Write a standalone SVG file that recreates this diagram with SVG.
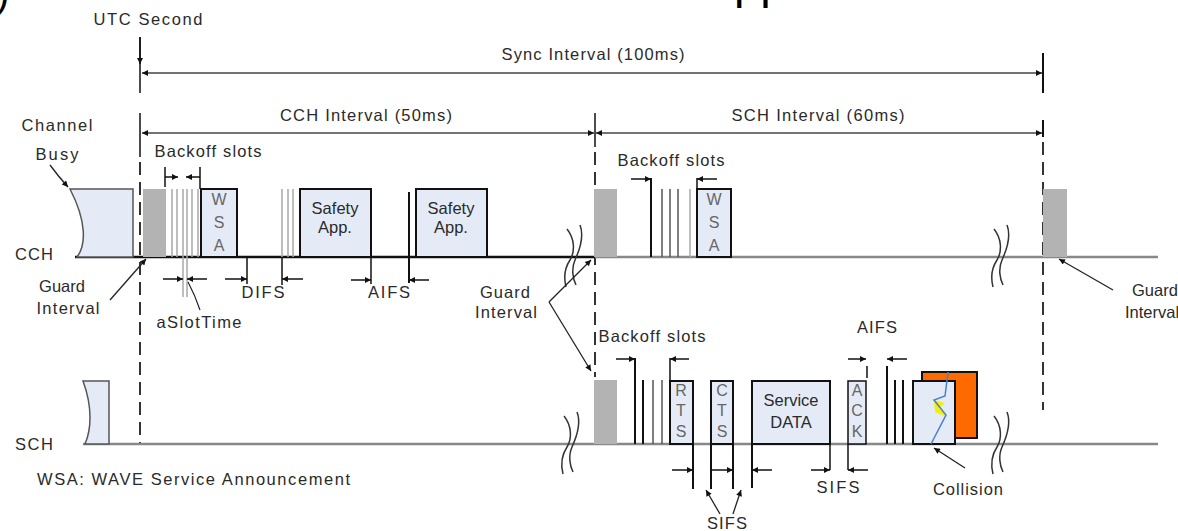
<svg xmlns="http://www.w3.org/2000/svg" width="1178" height="531" viewBox="0 0 1178 531">
<defs>
<marker id="ah" viewBox="0 0 10 10" refX="10" refY="5" markerWidth="9" markerHeight="6" markerUnits="userSpaceOnUse" orient="auto-start-reverse"><path d="M0,0 L10,5 L0,10 z" fill="#111"/></marker>
</defs>
<style>
text{font-family:"Liberation Sans",Arial,sans-serif;font-size:16.5px;fill:#2a2a2a}
.m{text-anchor:middle}
.lt{fill:#666;font-size:16px}
.k{stroke:#111;stroke-width:2;fill:none}
.thin{stroke:#111;stroke-width:1.5;fill:none}
.g{stroke:#a8a8a8;stroke-width:1.5}
.dg{stroke:#555;stroke-width:1.5}
.dash{stroke:#333;stroke-width:2;stroke-dasharray:13 7;fill:none}
.box{fill:#e4ebf7;stroke:#111;stroke-width:2}
.busy{fill:#e4ebf7;stroke:#555;stroke-width:1.5}
.guard{fill:#b3b3b3}
.dim{stroke:#111;stroke-width:1.5;marker-end:url(#ah)}
.brk{stroke:#333;stroke-width:1.5;fill:none}
.ptr{stroke:#222;stroke-width:1.3;fill:none;marker-end:url(#ah)}
.both{stroke:#444;stroke-width:1.5;marker-start:url(#ah);marker-end:url(#ah)}
</style>
<rect width="1178" height="531" fill="#fff"/>

<g id="fragments">
<text x="-4" y="7" style="font-size:40px;fill:#000">)</text>
<text x="734" y="-2" style="font-size:47px;fill:#000">pp</text>
</g>

<g id="intervals">
<text class="m" x="148" y="25" textLength="109">UTC Second</text>
<line x1="140" y1="37" x2="140" y2="93" class="thin"/>
<line x1="140" y1="37" x2="140" y2="64" class="dim"/>
<line x1="1043" y1="53" x2="1043" y2="93" class="k"/>
<line x1="142" y1="73" x2="1042" y2="73" class="both"/>
<text class="m" x="593" y="60" textLength="183">Sync Interval (100ms)</text>

<line x1="140" y1="113" x2="140" y2="157" class="thin"/>
<line x1="595" y1="113" x2="595" y2="147" class="thin"/>
<line x1="1043" y1="120" x2="1043" y2="137" class="k"/>
<line x1="142" y1="133" x2="594" y2="133" class="both"/>
<line x1="596" y1="133" x2="1042" y2="133" class="both"/>
<text class="m" x="366" y="121" textLength="172">CCH Interval (50ms)</text>
<text class="m" x="818" y="121" textLength="173">SCH Interval (60ms)</text>

<line x1="140" y1="162" x2="140" y2="444" class="dash"/>
<line x1="595" y1="152" x2="595" y2="377" class="dash"/>
<line x1="1043" y1="142" x2="1043" y2="410" class="dash"/>
</g>

<g id="channel-lines">
<line x1="75" y1="257" x2="595" y2="257" stroke="#111" stroke-width="2.5"/>
<line x1="595" y1="257" x2="1158" y2="257" stroke="#888" stroke-width="2.5"/>
<line x1="83" y1="444" x2="1158" y2="444" stroke="#888" stroke-width="2.5"/>
<text x="15" y="260" textLength="38">CCH</text>
<text x="15" y="450" textLength="38">SCH</text>
<text x="37" y="485" textLength="313">WSA: WAVE Service Announcement</text>
</g>

<g id="breaks">
<path class="brk" d="M567,229 C575,239 575,252 570,260 C564,269 564,279 566,287 M580,225 C584,235 580,249 575,260 C571,269 573,279 576,285"/>
<path class="brk" d="M994,229 C1002,239 1002,252 997,260 C991,269 991,279 993,287 M1007,225 C1011,235 1007,249 1002,260 C998,269 1000,279 1003,285"/>
<path class="brk" d="M564,416 C572,426 572,439 567,447 C561,456 561,466 563,474 M577,412 C581,422 577,436 572,447 C568,456 570,466 573,472"/>
<path class="brk" d="M994,416 C1002,426 1002,439 997,447 C991,456 991,466 993,474 M1007,412 C1011,422 1007,436 1002,447 C998,456 1000,466 1003,472"/>
</g>

<g id="cch-busy">
<path class="busy" d="M70,189 L133,189 L133,257 L77,257 C86,245 87,222 70,189 z"/>
<text class="m" x="57" y="131" textLength="71">Channel</text>
<text class="m" x="57" y="160" textLength="43">Busy</text>
<path class="ptr" d="M50,165 Q58,176 68,187"/>
</g>

<g id="cch-guard-left">
<rect class="guard" x="143" y="189" width="23" height="68"/>
<text class="m" x="62" y="292">Guard</text>
<text class="m" x="68" y="314" textLength="63">Interval</text>
<path class="ptr" d="M110,300 L146,259"/>
</g>

<g id="cch-backoff">
<line class="g" x1="172" y1="189" x2="172" y2="257"/>
<line class="g" x1="177" y1="189" x2="177" y2="257"/>
<line class="g" x1="183" y1="189" x2="183" y2="297"/>
<line class="g" x1="187" y1="189" x2="187" y2="297"/>
<line class="g" x1="192" y1="189" x2="192" y2="257"/>
<line class="g" x1="198" y1="189" x2="198" y2="257"/>
<line class="thin" x1="165" y1="167" x2="165" y2="187"/>
<line class="thin" x1="200" y1="167" x2="200" y2="189"/>
<line class="dim" x1="165" y1="177" x2="178" y2="177"/>
<line class="dim" x1="200" y1="177" x2="186" y2="177"/>
<text class="m" x="208" y="157" textLength="107">Backoff slots</text>
<line class="dim" x1="163" y1="279" x2="183" y2="279"/>
<line class="dim" x1="207" y1="279" x2="187" y2="279"/>
<path d="M188,282 Q195,295 200,310" stroke="#222" stroke-width="1.2" fill="none"/>
<text class="m" x="199" y="328" textLength="85">aSlotTime</text>
</g>

<g id="cch-wsa">
<rect class="box" x="201" y="189" width="36" height="68"/>
<text class="m lt" x="219" y="205">W</text>
<text class="m lt" x="219" y="228">S</text>
<text class="m lt" x="219" y="251">A</text>
</g>

<g id="cch-difs">
<line class="thin" x1="247" y1="257" x2="247" y2="284"/>
<line class="dim" x1="225" y1="279" x2="247" y2="279"/>
<line class="g" x1="282" y1="189" x2="282" y2="257"/>
<line class="thin" x1="282" y1="257" x2="282" y2="285"/>
<line class="dim" x1="303" y1="279" x2="282" y2="279"/>
<line class="g" x1="288" y1="189" x2="288" y2="257"/>
<line class="g" x1="293" y1="189" x2="293" y2="257"/>
<text class="m" x="263" y="298" textLength="43">DIFS</text>
</g>

<g id="cch-safety-1">
<rect class="box" x="300" y="189" width="71" height="68"/>
<text class="m" x="335" y="214">Safety</text>
<text class="m" x="335" y="233">App.</text>
</g>

<g id="cch-aifs">
<line class="thin" x1="371" y1="257" x2="371" y2="284"/>
<line class="dim" x1="351" y1="280" x2="371" y2="280"/>
<line class="k" x1="409" y1="192" x2="409" y2="283"/>
<line class="dim" x1="429" y1="280" x2="409" y2="280"/>
<text class="m" x="389" y="298" textLength="42">AIFS</text>
</g>

<g id="cch-safety-2">
<rect class="box" x="416" y="189" width="71" height="68"/>
<text class="m" x="451" y="214">Safety</text>
<text class="m" x="451" y="233">App.</text>
</g>

<g id="guard-middle">
<rect class="guard" x="594" y="189" width="23" height="68"/>
<rect class="guard" x="594" y="380" width="23" height="64"/>
<text class="m" x="505" y="298" textLength="50">Guard</text>
<text class="m" x="506" y="318" textLength="62">Interval</text>
<path class="ptr" d="M549,302 L591,260"/>
<path class="ptr" d="M549,302 L591,371"/>
</g>

<g id="cch-backoff-2">
<line class="k" x1="651" y1="178" x2="651" y2="257"/>
<line class="dim" x1="631" y1="179" x2="651" y2="179"/>
<line class="dg" x1="662" y1="189" x2="662" y2="257"/>
<line class="dg" x1="670" y1="189" x2="670" y2="257"/>
<line class="dg" x1="678" y1="189" x2="678" y2="257"/>
<line class="g" x1="690" y1="189" x2="690" y2="257"/>
<line class="thin" x1="697" y1="178" x2="697" y2="189"/>
<line class="dim" x1="717" y1="179" x2="697" y2="179"/>
<text class="m" x="671" y="166" textLength="107">Backoff slots</text>
</g>

<g id="cch-wsa-2">
<rect class="box" x="697" y="189" width="34" height="68"/>
<text class="m lt" x="714" y="205">W</text>
<text class="m lt" x="714" y="228">S</text>
<text class="m lt" x="714" y="251">A</text>
</g>

<g id="guard-right">
<rect class="guard" x="1043" y="189" width="24" height="68"/>
<text x="1132" y="296">Guard</text>
<text x="1125" y="318">Interval</text>
<path class="ptr" d="M1113,290 L1059,259"/>
</g>

<g id="sch-busy">
<path class="busy" d="M83,381 L109,381 L109,444 L85,444 C91,430 93,408 83,381 z"/>
</g>

<g id="sch-backoff">
<line class="k" x1="635" y1="358" x2="635" y2="444"/>
<line class="dim" x1="616" y1="359" x2="635" y2="359"/>
<line class="k" x1="643" y1="380" x2="643" y2="444"/>
<line class="dg" x1="653" y1="380" x2="653" y2="444"/>
<line class="dg" x1="662" y1="380" x2="662" y2="444"/>
<line class="thin" x1="670" y1="358" x2="670" y2="381"/>
<line class="dim" x1="689" y1="359" x2="670" y2="359"/>
<text class="m" x="652" y="342" textLength="107">Backoff slots</text>
</g>

<g id="sch-rts">
<rect class="box" x="670" y="381" width="23" height="63"/>
<text class="m lt" x="681" y="396">R</text>
<text class="m lt" x="681" y="416">T</text>
<text class="m lt" x="681" y="437">S</text>
<line class="k" x1="693" y1="444" x2="693" y2="489"/>
</g>

<g id="sch-cts">
<rect class="box" x="711" y="381" width="22" height="63"/>
<text class="m lt" x="722" y="396">C</text>
<text class="m lt" x="722" y="416">T</text>
<text class="m lt" x="722" y="437">S</text>
<line class="k" x1="711" y1="444" x2="711" y2="489"/>
<line class="k" x1="733" y1="444" x2="733" y2="489"/>
</g>

<g id="sch-service-data">
<rect class="box" x="752" y="381" width="78" height="63"/>
<text class="m" x="791" y="406">Service</text>
<text class="m" x="791" y="428">DATA</text>
<line class="k" x1="752" y1="444" x2="752" y2="488"/>
<line class="thin" x1="830" y1="444" x2="830" y2="470"/>
</g>

<g id="sch-ack">
<rect class="box" x="848" y="381" width="18" height="63" style="stroke-width:1.5"/>
<text class="m lt" x="857" y="396">A</text>
<text class="m lt" x="857" y="416">C</text>
<text class="m lt" x="857" y="437">K</text>
<line class="thin" x1="848" y1="444" x2="848" y2="470"/>
</g>

<g id="sch-sifs">
<line class="dim" x1="672" y1="470" x2="693" y2="470"/>
<line class="dim" x1="711" y1="470" x2="733" y2="470"/>
<line class="dim" x1="772" y1="470" x2="752" y2="470"/>
<text class="m" x="727" y="529" textLength="40">SIFS</text>
<path class="ptr" d="M720,514 L706,490"/>
<path class="ptr" d="M733,514 L741,490"/>
<line class="dim" x1="811" y1="470" x2="830" y2="470"/>
<line class="dim" x1="868" y1="470" x2="848" y2="470"/>
<text class="m" x="838" y="493" textLength="43">SIFS</text>
</g>

<g id="sch-aifs">
<line class="dim" x1="848" y1="359" x2="866" y2="359"/>
<line class="thin" x1="867" y1="366" x2="867" y2="378"/>
<line class="dim" x1="907" y1="359" x2="887" y2="359"/>
<line class="k" x1="887" y1="366" x2="887" y2="444"/>
<line class="k" x1="895" y1="380" x2="895" y2="444"/>
<line class="k" x1="903" y1="380" x2="903" y2="444"/>
<text class="m" x="877" y="333" textLength="40">AIFS</text>
</g>

<g id="sch-collision">
<rect x="922" y="372" width="55" height="66" fill="#ff6a00" stroke="#111" stroke-width="2"/>
<rect class="box" x="913" y="381" width="42" height="63"/>
<polygon points="934,400 945,403 939,408 947,417 935,412" fill="#f4f000"/>
<polyline points="948,372 945,396 934,400 946,415 931,444" fill="none" stroke="#4a7fd0" stroke-width="1.5"/>
<path class="ptr" d="M965,468 L934,448"/>
<text class="m" x="968" y="495" textLength="70">Collision</text>
</g>
</svg>
